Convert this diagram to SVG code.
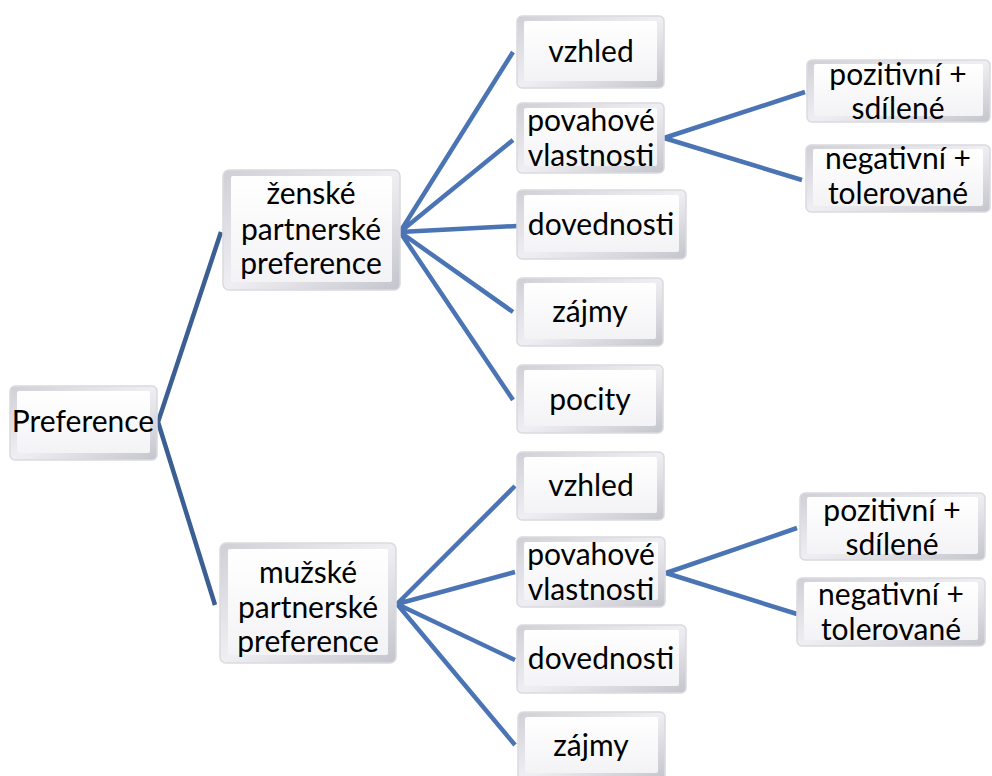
<svg xmlns="http://www.w3.org/2000/svg" width="992" height="776" viewBox="0 0 992 776">
<defs>
<linearGradient id="bev" x1="0" y1="0" x2="1" y2="1">
<stop offset="0" stop-color="#cfcfd6"/>
<stop offset="0.5" stop-color="#efeff3"/>
<stop offset="1" stop-color="#c4c4cc"/>
</linearGradient>
<linearGradient id="face" x1="0" y1="0" x2="0" y2="1">
<stop offset="0" stop-color="#ffffff"/>
<stop offset="1" stop-color="#f3f3f6"/>
</linearGradient>
</defs>
<style>
.o{fill:url(#bev);stroke:#dadae0;stroke-width:1.5}
.i{fill:url(#face)}
text{font-family:Lato,"Noto Sans","DejaVu Sans",sans-serif;font-size:30px;fill:#000;text-anchor:middle}
.c{fill:none;stroke:#4a74b4;stroke-width:4.5;stroke-linecap:butt}
.d{fill:none;stroke:#3b5f93;stroke-width:4.5}
</style>
<rect width="992" height="776" fill="#fff"/>
<g id="connectors">
<polyline class="d" points="221,232 158,422 215,605"/>
<path class="c" d="M400,232 L513,52 M400,232 L513,140 M400,232 L517,226 M400,232 L513,312 M400,232 L513,400"/>
<path class="c" d="M664,138 L805,92 M664,138 L802,180"/>
<path class="c" d="M397,604 L515,486 M397,604 L515,572 M397,604 L515,660 M397,604 L515,745"/>
<path class="c" d="M666,573 L797,528 M666,573 L797,614"/>
</g>
<g id="n-preference"><rect class="o" x="10" y="386" width="147" height="74" rx="5"/><rect class="i" x="17" y="391" width="133" height="62" rx="2"/><text x="83" y="432">Preference</text></g>
<g id="n-zenske"><rect class="o" x="223" y="170" width="177" height="120" rx="6"/><rect class="i" x="231" y="176" width="161" height="106" rx="2"/><text x="311" y="204">ženské</text><text x="311" y="240">partnerské</text><text x="311" y="274">preference</text></g>
<g id="n-muzske"><rect class="o" x="220" y="543" width="176" height="120" rx="6"/><rect class="i" x="228" y="549" width="160" height="106" rx="2"/><text x="308" y="583">mužské</text><text x="308" y="618">partnerské</text><text x="308" y="652">preference</text></g>
<g id="n-vzhled1"><rect class="o" x="517" y="16" width="147" height="72" rx="5"/><rect class="i" x="524" y="21" width="133" height="60" rx="2"/><text x="591" y="62">vzhled</text></g>
<g id="n-povahove1"><rect class="o" x="517" y="103" width="147" height="70" rx="5"/><rect class="i" x="524" y="108" width="133" height="58" rx="2"/><text x="591" y="131">povahové</text><text x="591" y="166">vlastnosti</text></g>
<g id="n-dovednosti1"><rect class="o" x="517" y="190" width="169" height="69" rx="5"/><rect class="i" x="524" y="195" width="155" height="57" rx="2"/><text x="601" y="235">dovednosti</text></g>
<g id="n-zajmy1"><rect class="o" x="517" y="278" width="146" height="68" rx="5"/><rect class="i" x="524" y="283" width="132" height="56" rx="2"/><text x="590" y="322">zájmy</text></g>
<g id="n-pocity"><rect class="o" x="517" y="365" width="146" height="68" rx="5"/><rect class="i" x="524" y="370" width="132" height="56" rx="2"/><text x="590" y="410">pocity</text></g>
<g id="n-poz1"><rect class="o" x="807" y="60" width="183" height="62" rx="5"/><rect class="i" x="814" y="64" width="169" height="52" rx="2"/><text x="898" y="85">pozitivní +</text><text x="898" y="119">sdílené</text></g>
<g id="n-neg1"><rect class="o" x="806" y="145" width="184" height="67" rx="5"/><rect class="i" x="813" y="149" width="170" height="57" rx="2"/><text x="898" y="169">negativní +</text><text x="898" y="204">tolerované</text></g>
<g id="n-vzhled2"><rect class="o" x="517" y="452" width="147" height="68" rx="5"/><rect class="i" x="524" y="457" width="133" height="56" rx="2"/><text x="591" y="496">vzhled</text></g>
<g id="n-povahove2"><rect class="o" x="517" y="537" width="148" height="70" rx="5"/><rect class="i" x="524" y="542" width="134" height="58" rx="2"/><text x="591" y="565">povahové</text><text x="591" y="600">vlastnosti</text></g>
<g id="n-dovednosti2"><rect class="o" x="517" y="625" width="169" height="68" rx="5"/><rect class="i" x="524" y="630" width="155" height="56" rx="2"/><text x="601" y="669">dovednosti</text></g>
<g id="n-zajmy2"><rect class="o" x="518" y="712" width="147" height="68" rx="5"/><rect class="i" x="525" y="717" width="133" height="56" rx="2"/><text x="591" y="756">zájmy</text></g>
<g id="n-poz2"><rect class="o" x="800" y="493" width="185" height="67" rx="5"/><rect class="i" x="807" y="497" width="171" height="57" rx="2"/><text x="892" y="521">pozitivní +</text><text x="892" y="555">sdílené</text></g>
<g id="n-neg2"><rect class="o" x="797" y="578" width="188" height="68" rx="5"/><rect class="i" x="804" y="582" width="174" height="58" rx="2"/><text x="891" y="605">negativní +</text><text x="891" y="640">tolerované</text></g>
</svg>
